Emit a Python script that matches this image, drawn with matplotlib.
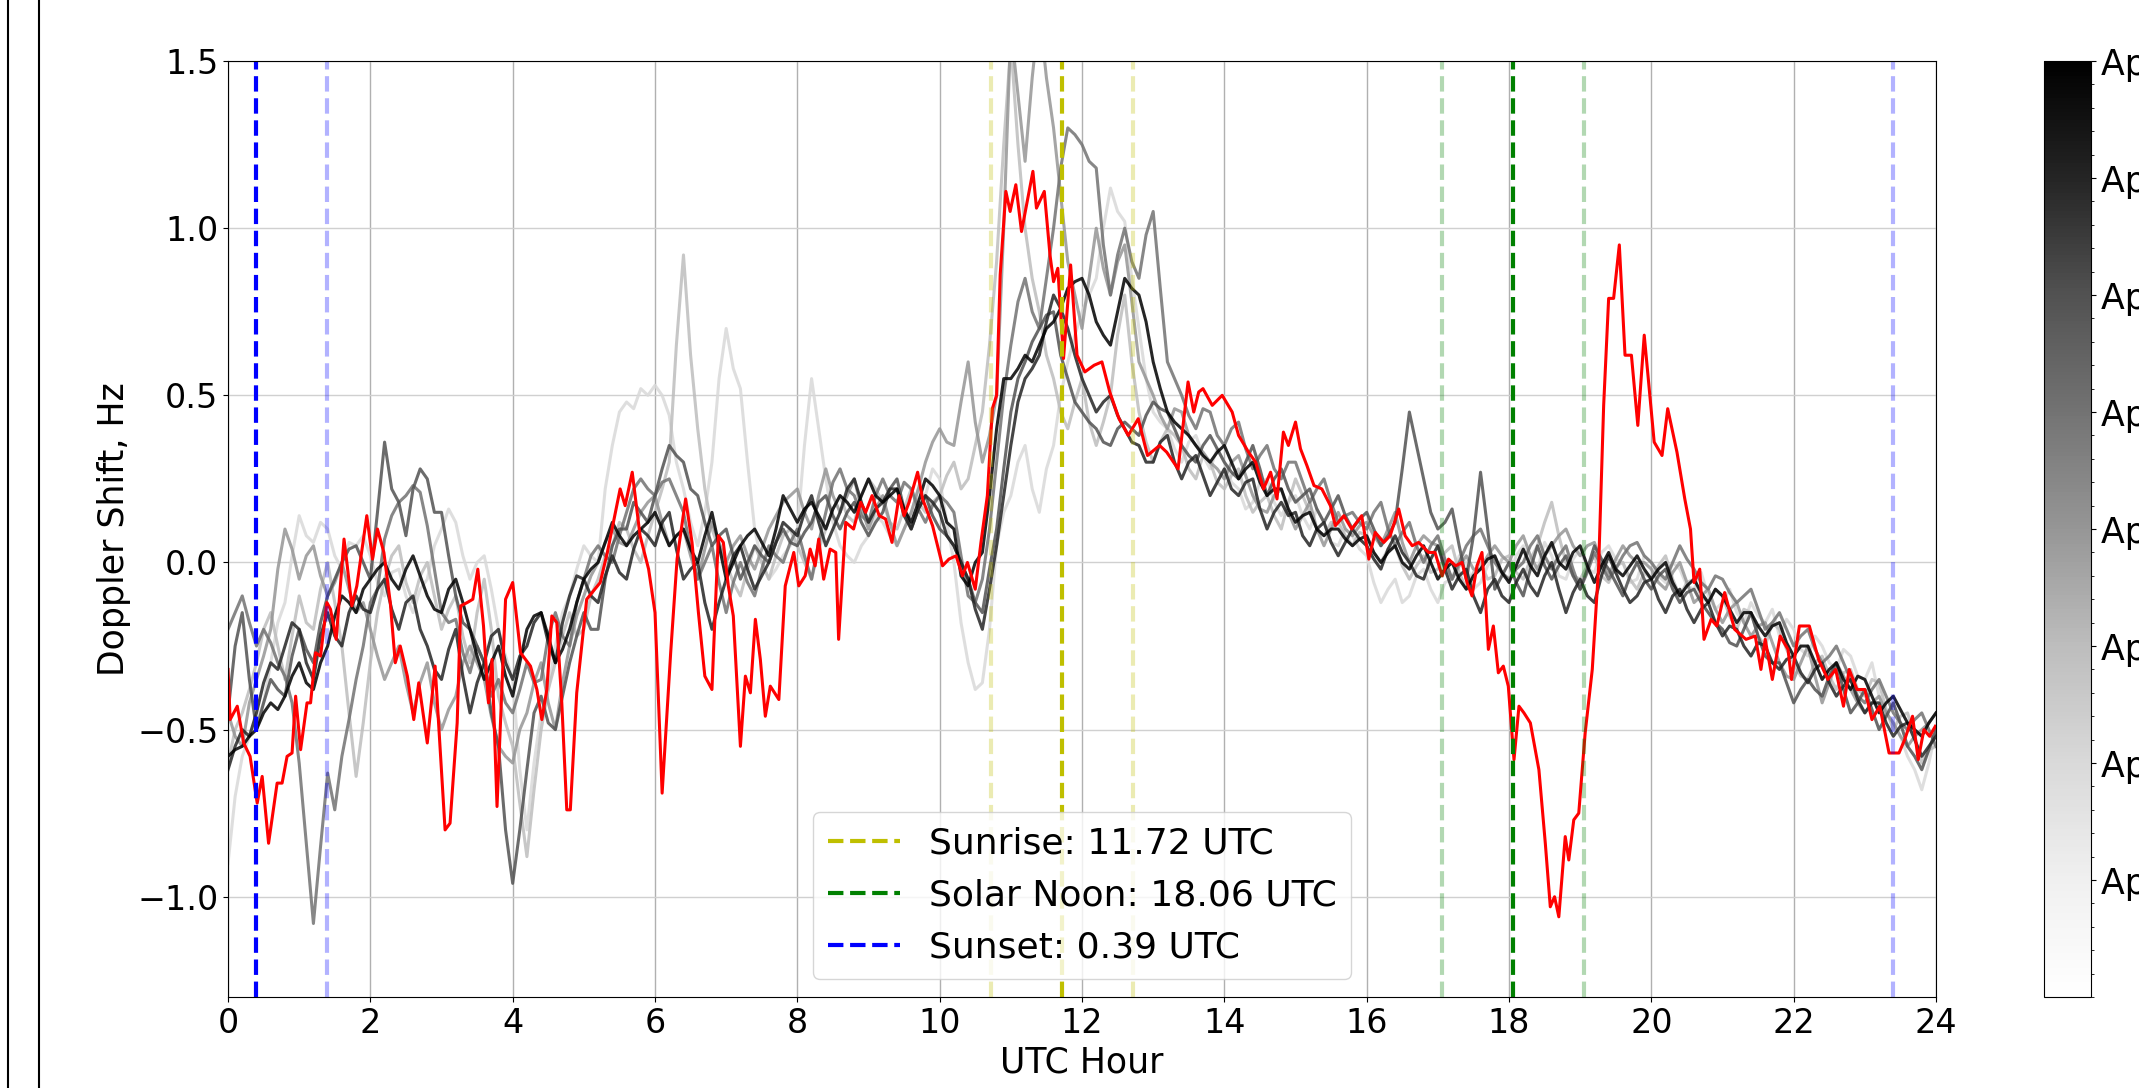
import matplotlib
matplotlib.use("Agg")
import matplotlib.pyplot as plt
import numpy as np
from matplotlib.lines import Line2D

# eclipse day (red), UTC hour / Doppler shift in Hz
red_hours = [0.00, 0.03, 0.13, 0.22, 0.31, 0.41, 0.48, 0.57, 0.69, 0.76, 0.83, 0.90, 0.95, 1.02, 1.11, 1.16,
             1.23, 1.30, 1.39, 1.44, 1.52, 1.63, 1.67, 1.74, 1.81, 1.95, 2.03, 2.10, 2.19, 2.28, 2.35, 2.42,
             2.52, 2.61, 2.68, 2.80, 2.91, 3.05, 3.12, 3.22, 3.27, 3.36, 3.44, 3.51, 3.59, 3.66, 3.71, 3.78,
             3.84, 3.90, 4.00, 4.11, 4.25, 4.34, 4.41, 4.48, 4.55, 4.62, 4.69, 4.76, 4.81, 4.90, 5.04, 5.23,
             5.33, 5.51, 5.58, 5.68, 5.79, 5.91, 6.00, 6.10, 6.22, 6.31, 6.43, 6.52, 6.61, 6.70, 6.80, 6.89,
             6.96, 7.03, 7.10, 7.20, 7.27, 7.34, 7.41, 7.48, 7.55, 7.62, 7.74, 7.83, 7.95, 8.02, 8.11, 8.18,
             8.25, 8.30, 8.37, 8.46, 8.54, 8.58, 8.68, 8.79, 8.89, 8.96, 9.05, 9.15, 9.24, 9.33, 9.43, 9.50,
             9.57, 9.69, 9.76, 9.90, 10.04, 10.13, 10.23, 10.32, 10.39, 10.50, 10.58, 10.67, 10.74, 10.80,
             10.85, 10.93, 10.99, 11.07, 11.15, 11.23, 11.31, 11.36, 11.47, 11.55, 11.60, 11.66, 11.74, 11.84,
             11.93, 12.04, 12.17, 12.28, 12.39, 12.52, 12.65, 12.79, 12.92, 13.09, 13.19, 13.35, 13.49, 13.57,
             13.64, 13.70, 13.83, 13.97, 14.11, 14.20, 14.34, 14.44, 14.55, 14.65, 14.74, 14.83, 14.90, 15.00,
             15.07, 15.16, 15.26, 15.37, 15.49, 15.56, 15.68, 15.79, 15.93, 16.03, 16.12, 16.24, 16.33, 16.45,
             16.54, 16.64, 16.73, 16.87, 16.96, 17.06, 17.15, 17.25, 17.34, 17.41, 17.48, 17.55, 17.62, 17.67,
             17.71, 17.78, 17.85, 17.92, 17.99, 18.07, 18.14, 18.21, 18.30, 18.42, 18.51, 18.58, 18.64, 18.70,
             18.79, 18.84, 18.91, 18.98, 19.07, 19.17, 19.26, 19.33, 19.40, 19.47, 19.55, 19.63, 19.72, 19.81,
             19.90, 20.04, 20.15, 20.23, 20.36, 20.47, 20.55, 20.60, 20.68, 20.74, 20.84, 20.92, 21.03, 21.17,
             21.33, 21.46, 21.54, 21.60, 21.70, 21.81, 21.92, 21.97, 22.08, 22.22, 22.35, 22.48, 22.59, 22.70,
             22.78, 22.89, 23.00, 23.10, 23.21, 23.34, 23.48, 23.56, 23.67, 23.75, 23.83, 23.91, 23.99]
red_shift = [-0.32, -0.47, -0.43, -0.54, -0.58, -0.72, -0.64, -0.84, -0.66, -0.66, -0.58, -0.57, -0.40, -0.56, -0.42, -0.42,
             -0.27, -0.28, -0.12, -0.14, -0.23, 0.07, 0.00, -0.13, -0.07, 0.14, 0.01, 0.10, 0.03, -0.12, -0.30, -0.25,
             -0.34, -0.47, -0.36, -0.54, -0.31, -0.80, -0.78, -0.48, -0.13, -0.12, -0.11, -0.02, -0.19, -0.42, -0.29, -0.73,
             -0.42, -0.11, -0.06, -0.27, -0.31, -0.38, -0.47, -0.38, -0.16, -0.18, -0.42, -0.74, -0.74, -0.39, -0.11, -0.06,
             0.03, 0.22, 0.17, 0.27, 0.08, -0.02, -0.15, -0.69, -0.27, 0.01, 0.19, 0.06, -0.15, -0.34, -0.38, 0.08,
             0.06, -0.07, -0.16, -0.55, -0.34, -0.39, -0.17, -0.29, -0.46, -0.37, -0.41, -0.07, 0.03, -0.07, -0.04, 0.04,
             -0.01, 0.07, -0.05, 0.04, 0.03, -0.23, 0.12, 0.10, 0.18, 0.15, 0.20, 0.14, 0.13, 0.06, 0.20, 0.14,
             0.18, 0.27, 0.19, 0.11, -0.01, 0.01, 0.02, -0.04, 0.00, -0.08, 0.06, 0.20, 0.46, 0.50,
             0.86, 1.11, 1.05, 1.13, 0.99, 1.08, 1.17, 1.06, 1.11, 0.92, 0.84, 0.88, 0.61, 0.89,
             0.62, 0.57, 0.59, 0.60, 0.51, 0.43, 0.38, 0.43, 0.32, 0.35, 0.33, 0.28, 0.54, 0.45,
             0.51, 0.52, 0.47, 0.50, 0.45, 0.38, 0.33, 0.30, 0.22, 0.27, 0.19, 0.39, 0.35, 0.42,
             0.34, 0.29, 0.23, 0.22, 0.17, 0.11, 0.14, 0.10, 0.14, 0.01, 0.09, 0.06, 0.08, 0.16,
             0.08, 0.05, 0.06, 0.03, 0.03, -0.04, 0.01, -0.01, 0.00, -0.06, -0.10, -0.01, 0.03, -0.11,
             -0.26, -0.19, -0.33, -0.31, -0.37, -0.59, -0.43, -0.45, -0.48, -0.62, -0.84, -1.03, -1.00, -1.06,
             -0.82, -0.89, -0.77, -0.75, -0.51, -0.32, -0.01, 0.47, 0.79, 0.79, 0.95, 0.62, 0.62, 0.41,
             0.68, 0.36, 0.32, 0.46, 0.33, 0.19, 0.10, -0.06, -0.02, -0.23, -0.17, -0.19, -0.09, -0.20,
             -0.23, -0.22, -0.32, -0.23, -0.35, -0.22, -0.26, -0.35, -0.19, -0.19, -0.29, -0.35, -0.32, -0.43,
             -0.32, -0.38, -0.38, -0.47, -0.43, -0.57, -0.57, -0.53, -0.46, -0.59, -0.50, -0.52, -0.49]

# other days, one value every 0.1 h from 0 to 24 UTC (one row = 2 h)
gray_hours = np.linspace(0, 24, 241)
day_a = [-0.90, -0.70, -0.58, -0.52, -0.48, -0.42, -0.30, -0.18, -0.12, 0.02, 0.14, 0.08, 0.06, 0.12, 0.10, 0.02, -0.02, 0.06, 0.05, 0.08,
         0.02, -0.06, -0.10, -0.03, -0.02, -0.10, -0.15, -0.08, -0.05, 0.05, 0.10, 0.16, 0.12, 0.02, -0.05, 0.00, 0.02, -0.08, -0.20, -0.28,
         -0.35, -0.62, -0.80, -0.60, -0.45, -0.38, -0.25, -0.15, -0.10, -0.02, 0.05, 0.02, 0.00, 0.22, 0.35, 0.45, 0.48, 0.46, 0.52, 0.50,
         0.53, 0.50, 0.44, 0.30, 0.22, 0.12, 0.05, 0.15, 0.30, 0.55, 0.70, 0.58, 0.52, 0.30, 0.10, 0.00, -0.05, -0.02, 0.02, 0.05,
         0.10, 0.35, 0.55, 0.40, 0.25, 0.12, 0.05, 0.02, 0.00, 0.05, 0.08, 0.14, 0.12, 0.08, 0.05, 0.10, 0.15, 0.22, 0.20, 0.28,
         0.25, 0.12, 0.00, -0.18, -0.30, -0.38, -0.36, -0.20, 0.05, 0.15, 0.20, 0.30, 0.35, 0.22, 0.15, 0.28, 0.35, 0.50, 0.60, 0.68,
         0.75, 0.80, 0.85, 1.00, 1.12, 1.05, 1.02, 0.85, 0.70, 0.55, 0.45, 0.42, 0.40, 0.34, 0.30, 0.36, 0.38, 0.32, 0.28, 0.34,
         0.30, 0.24, 0.22, 0.16, 0.18, 0.24, 0.25, 0.18, 0.14, 0.18, 0.20, 0.14, 0.10, 0.16, 0.12, 0.06, 0.05, 0.10, 0.08, 0.04,
         0.02, -0.06, -0.12, -0.08, -0.05, -0.12, -0.10, -0.04, -0.02, -0.08, -0.12, -0.06, -0.05, 0.02, 0.00, -0.08, -0.06, -0.01, 0.02, -0.04,
         -0.05, 0.02, 0.05, -0.01, -0.02, 0.06, 0.02, -0.04, -0.05, 0.01, 0.04, -0.02, -0.03, 0.03, 0.05, 0.01, 0.00, -0.06, -0.05, 0.02,
         0.00, -0.04, -0.06, 0.00, -0.02, -0.07, -0.08, -0.03, -0.10, -0.14, -0.12, -0.08, -0.15, -0.18, -0.12, -0.16, -0.18, -0.14, -0.22, -0.17,
         -0.20, -0.26, -0.28, -0.22, -0.25, -0.30, -0.32, -0.26, -0.28, -0.34, -0.35, -0.30, -0.40, -0.45, -0.48, -0.52, -0.58, -0.62, -0.68, -0.60,
         -0.50]
day_b = [-0.60, -0.50, -0.45, -0.38, -0.30, -0.20, -0.15, -0.25, -0.35, -0.22, -0.10, -0.18, -0.20, -0.08, 0.00, -0.12, -0.25, -0.45, -0.64, -0.48,
         -0.30, -0.15, -0.05, 0.02, 0.05, -0.06, -0.12, -0.04, 0.00, -0.10, -0.20, -0.14, -0.10, -0.22, -0.30, -0.15, -0.05, -0.20, -0.40, -0.48,
         -0.55, -0.72, -0.88, -0.68, -0.50, -0.38, -0.30, -0.22, -0.15, -0.22, -0.20, -0.10, -0.05, 0.02, 0.05, 0.12, 0.10, 0.04, 0.00, 0.08,
         0.15, 0.22, 0.30, 0.65, 0.92, 0.62, 0.40, 0.22, 0.10, 0.04, 0.00, -0.06, -0.10, -0.02, 0.05, 0.00, -0.05, 0.02, 0.08, 0.10,
         0.05, 0.00, -0.05, 0.04, 0.10, 0.16, 0.20, 0.14, 0.12, 0.20, 0.25, 0.22, 0.18, 0.12, 0.10, 0.16, 0.22, 0.18, 0.15, 0.18,
         0.20, 0.26, 0.30, 0.22, 0.25, 0.35, 0.45, 0.65, 0.90, 1.25, 1.55, 1.25, 1.00, 0.85, 0.75, 0.62, 0.55, 0.45, 0.40, 0.48,
         0.55, 0.42, 0.35, 0.42, 0.50, 0.68, 0.80, 0.60, 0.45, 0.36, 0.30, 0.36, 0.40, 0.38, 0.35, 0.28, 0.25, 0.32, 0.30, 0.24,
         0.22, 0.26, 0.28, 0.20, 0.15, 0.18, 0.20, 0.14, 0.10, 0.18, 0.25, 0.20, 0.15, 0.10, 0.08, 0.12, 0.12, 0.08, 0.05, 0.09,
         0.08, 0.03, 0.00, 0.04, 0.05, -0.01, -0.05, -0.01, 0.02, -0.03, -0.02, 0.03, 0.05, -0.03, -0.08, -0.03, 0.00, -0.05, -0.04, 0.01,
         0.02, -0.03, -0.05, 0.01, 0.05, 0.12, 0.18, 0.08, 0.00, -0.04, -0.05, -0.01, 0.02, -0.04, -0.06, -0.01, 0.00, -0.05, -0.08, -0.03,
         -0.05, -0.01, 0.02, -0.05, -0.10, -0.06, -0.05, -0.10, -0.12, -0.08, -0.10, -0.16, -0.20, -0.14, -0.15, -0.22, -0.25, -0.18, -0.20, -0.26,
         -0.30, -0.34, -0.35, -0.30, -0.28, -0.34, -0.38, -0.33, -0.32, -0.38, -0.40, -0.35, -0.36, -0.44, -0.50, -0.46, -0.45, -0.52, -0.60, -0.56,
         -0.55]
day_c = [-0.45, -0.52, -0.55, -0.42, -0.35, -0.28, -0.20, -0.02, 0.10, 0.04, -0.05, 0.02, 0.05, -0.04, -0.10, -0.06, 0.00, -0.08, -0.15, -0.12,
         -0.20, -0.28, -0.35, -0.30, -0.25, -0.36, -0.45, -0.36, -0.30, -0.42, -0.50, -0.44, -0.40, -0.30, -0.25, -0.30, -0.35, -0.46, -0.55, -0.58,
         -0.60, -0.50, -0.45, -0.36, -0.30, -0.42, -0.50, -0.36, -0.25, -0.16, -0.10, -0.04, 0.00, 0.06, 0.10, 0.06, 0.05, 0.10, 0.15, 0.18,
         0.20, 0.12, 0.05, 0.08, 0.10, 0.02, -0.05, 0.04, 0.12, 0.06, 0.00, 0.05, 0.08, 0.02, -0.02, 0.04, 0.10, 0.14, 0.18, 0.20,
         0.22, 0.15, 0.10, 0.20, 0.28, 0.20, 0.15, 0.20, 0.25, 0.16, 0.10, 0.16, 0.20, 0.12, 0.05, 0.10, 0.15, 0.22, 0.30, 0.36,
         0.40, 0.36, 0.35, 0.48, 0.60, 0.42, 0.30, 0.38, 0.50, 1.00, 1.60, 1.40, 1.20, 1.45, 1.65, 1.45, 1.30, 1.10, 0.90, 0.80,
         0.70, 0.85, 1.00, 0.88, 0.80, 0.90, 0.95, 0.78, 0.60, 0.55, 0.50, 0.44, 0.40, 0.46, 0.45, 0.38, 0.35, 0.33, 0.30, 0.28,
         0.25, 0.30, 0.32, 0.26, 0.20, 0.16, 0.15, 0.20, 0.22, 0.15, 0.10, 0.14, 0.18, 0.10, 0.05, 0.10, 0.15, 0.10, 0.08, 0.11,
         0.12, 0.08, 0.05, 0.10, 0.15, 0.06, 0.00, 0.05, 0.08, 0.06, 0.05, 0.00, -0.05, -0.01, 0.02, -0.02, -0.02, 0.02, 0.05, 0.02,
         0.00, 0.05, 0.08, 0.02, -0.02, 0.02, 0.05, 0.08, 0.10, 0.05, 0.02, 0.05, 0.06, 0.00, -0.04, 0.01, 0.05, 0.02, 0.00, 0.00,
         -0.02, -0.06, -0.08, -0.03, 0.00, -0.06, -0.12, -0.10, -0.08, -0.14, -0.18, -0.14, -0.12, -0.18, -0.22, -0.19, -0.18, -0.24, -0.30, -0.34,
         -0.35, -0.30, -0.25, -0.34, -0.42, -0.36, -0.30, -0.34, -0.38, -0.42, -0.45, -0.42, -0.40, -0.45, -0.48, -0.52, -0.55, -0.52, -0.50, -0.48,
         -0.45]
day_d = [-0.20, -0.15, -0.10, -0.18, -0.25, -0.20, -0.24, -0.30, -0.34, -0.42, -0.60, -0.84, -1.08, -0.85, -0.63, -0.74, -0.58, -0.47, -0.35, -0.25,
         -0.12, -0.08, 0.07, 0.14, 0.18, 0.20, 0.23, 0.21, 0.11, -0.02, -0.15, -0.18, -0.17, -0.27, -0.33, -0.25, -0.30, -0.40, -0.35, -0.42,
         -0.45, -0.38, -0.30, -0.36, -0.35, -0.22, -0.15, -0.22, -0.25, -0.12, -0.05, 0.02, 0.05, 0.02, 0.00, 0.08, 0.15, 0.22, 0.25, 0.22,
         0.20, 0.24, 0.25, 0.20, 0.15, 0.04, -0.05, 0.00, 0.05, -0.06, -0.15, -0.06, 0.00, -0.06, -0.10, -0.02, 0.05, 0.02, 0.00, 0.06,
         0.10, 0.02, -0.05, 0.06, 0.15, 0.24, 0.28, 0.22, 0.20, 0.14, 0.12, 0.20, 0.25, 0.20, 0.18, 0.24, 0.22, 0.16, 0.12, 0.17,
         0.20, 0.18, 0.15, 0.02, -0.10, -0.12, -0.05, 0.10, 0.30, 0.50, 0.65, 0.78, 0.85, 0.75, 0.70, 0.85, 1.00, 1.18, 1.30, 1.28,
         1.25, 1.20, 1.18, 0.95, 0.80, 0.92, 1.00, 0.90, 0.85, 0.98, 1.05, 0.82, 0.60, 0.55, 0.50, 0.44, 0.40, 0.46, 0.45, 0.38,
         0.35, 0.40, 0.42, 0.34, 0.28, 0.32, 0.35, 0.28, 0.25, 0.30, 0.30, 0.24, 0.18, 0.22, 0.25, 0.18, 0.12, 0.14, 0.15, 0.12,
         0.10, 0.15, 0.18, 0.10, 0.05, 0.09, 0.12, 0.05, 0.00, 0.05, 0.08, 0.01, -0.05, 0.00, 0.05, 0.08, 0.10, 0.05, 0.00, -0.03,
         -0.05, -0.02, 0.00, 0.05, 0.08, 0.02, -0.02, 0.02, 0.05, -0.02, -0.08, -0.03, 0.03, -0.01, -0.05, -0.02, 0.02, 0.05, 0.06, 0.02,
         0.00, -0.03, -0.05, 0.00, 0.05, 0.01, -0.02, -0.06, -0.08, -0.04, -0.05, -0.09, -0.12, -0.10, -0.08, -0.14, -0.20, -0.18, -0.15, -0.20,
         -0.25, -0.22, -0.20, -0.26, -0.30, -0.28, -0.25, -0.30, -0.35, -0.40, -0.42, -0.38, -0.35, -0.40, -0.45, -0.48, -0.50, -0.47, -0.45, -0.50,
         -0.55]
day_e = [-0.45, -0.25, -0.15, -0.35, -0.50, -0.42, -0.35, -0.38, -0.40, -0.28, -0.20, -0.26, -0.30, -0.18, -0.10, -0.05, 0.00, 0.04, 0.05, 0.00,
         -0.05, 0.15, 0.36, 0.22, 0.18, 0.08, 0.22, 0.28, 0.25, 0.15, 0.15, 0.02, -0.10, -0.18, -0.20, -0.25, -0.30, -0.45, -0.55, -0.80,
         -0.96, -0.80, -0.62, -0.45, -0.40, -0.48, -0.50, -0.40, -0.30, -0.22, -0.15, -0.20, -0.20, -0.05, 0.05, 0.10, 0.10, 0.18, 0.15, 0.12,
         0.20, 0.28, 0.35, 0.32, 0.30, 0.22, 0.20, 0.12, 0.05, 0.08, 0.10, 0.02, -0.05, 0.00, 0.05, 0.02, 0.00, 0.06, 0.10, 0.06,
         0.05, 0.09, 0.12, 0.18, 0.20, 0.14, 0.10, 0.15, 0.18, 0.12, 0.08, 0.12, 0.15, 0.22, 0.25, 0.16, 0.10, 0.16, 0.20, 0.14,
         0.10, 0.08, 0.05, 0.00, -0.05, -0.12, -0.15, -0.02, 0.10, 0.28, 0.45, 0.55, 0.60, 0.66, 0.70, 0.74, 0.75, 0.62, 0.55, 0.48,
         0.45, 0.42, 0.40, 0.36, 0.35, 0.40, 0.42, 0.40, 0.38, 0.44, 0.48, 0.46, 0.45, 0.40, 0.35, 0.32, 0.30, 0.35, 0.38, 0.34,
         0.30, 0.27, 0.25, 0.30, 0.35, 0.28, 0.20, 0.25, 0.28, 0.22, 0.18, 0.20, 0.22, 0.16, 0.12, 0.16, 0.20, 0.14, 0.10, 0.13,
         0.15, 0.10, 0.05, 0.08, 0.12, 0.28, 0.45, 0.35, 0.25, 0.15, 0.10, 0.12, 0.16, 0.05, -0.05, 0.08, 0.27, 0.10, -0.08, -0.04,
         0.00, -0.06, -0.10, -0.02, 0.05, -0.01, -0.05, -0.01, 0.02, -0.04, -0.08, -0.02, 0.05, 0.01, -0.02, -0.06, -0.10, -0.04, 0.00, -0.05,
         -0.08, -0.04, -0.02, -0.08, -0.12, -0.09, -0.08, -0.12, -0.15, -0.18, -0.20, -0.24, -0.25, -0.20, -0.15, -0.22, -0.28, -0.30, -0.30, -0.36,
         -0.42, -0.38, -0.35, -0.38, -0.40, -0.34, -0.30, -0.38, -0.45, -0.42, -0.38, -0.44, -0.50, -0.46, -0.42, -0.48, -0.55, -0.58, -0.62, -0.56,
         -0.50]
day_f = [-0.62, -0.55, -0.50, -0.52, -0.45, -0.36, -0.30, -0.32, -0.25, -0.18, -0.20, -0.30, -0.35, -0.22, -0.15, -0.22, -0.25, -0.15, -0.10, -0.14,
         -0.15, -0.08, -0.05, -0.14, -0.20, -0.12, -0.10, -0.20, -0.25, -0.32, -0.35, -0.26, -0.20, -0.34, -0.45, -0.36, -0.30, -0.22, -0.20, -0.30,
         -0.35, -0.28, -0.25, -0.18, -0.15, -0.24, -0.30, -0.18, -0.10, -0.04, -0.05, -0.10, -0.12, -0.04, 0.02, -0.03, -0.05, 0.04, 0.10, 0.08,
         0.05, 0.12, 0.15, 0.04, -0.05, -0.02, 0.00, -0.12, -0.20, -0.12, -0.05, 0.02, 0.05, -0.02, -0.08, -0.04, 0.00, 0.06, 0.12, 0.10,
         0.08, 0.15, 0.20, 0.12, 0.05, 0.10, 0.15, 0.22, 0.25, 0.18, 0.12, 0.16, 0.18, 0.22, 0.22, 0.14, 0.10, 0.16, 0.20, 0.18,
         0.15, 0.08, 0.05, 0.00, -0.05, -0.14, -0.20, -0.08, 0.05, 0.20, 0.35, 0.48, 0.55, 0.58, 0.62, 0.72, 0.80, 0.76, 0.70, 0.62,
         0.55, 0.50, 0.45, 0.48, 0.50, 0.44, 0.40, 0.36, 0.35, 0.30, 0.30, 0.36, 0.38, 0.30, 0.25, 0.30, 0.32, 0.26, 0.20, 0.24,
         0.28, 0.22, 0.20, 0.24, 0.25, 0.16, 0.10, 0.15, 0.18, 0.14, 0.15, 0.08, 0.05, 0.10, 0.12, 0.06, 0.02, 0.06, 0.10, 0.07,
         0.05, 0.01, -0.02, 0.04, 0.08, 0.03, 0.00, -0.04, -0.05, 0.01, 0.05, -0.02, -0.08, -0.04, -0.02, -0.10, -0.15, -0.08, -0.05, -0.10,
         -0.12, -0.06, -0.02, -0.07, -0.10, -0.04, 0.00, -0.08, -0.15, -0.09, -0.05, -0.10, -0.12, -0.04, 0.02, -0.03, -0.08, -0.12, -0.10, -0.06,
         -0.05, -0.11, -0.15, -0.10, -0.08, -0.14, -0.18, -0.14, -0.12, -0.18, -0.22, -0.19, -0.20, -0.25, -0.28, -0.24, -0.25, -0.30, -0.32, -0.29,
         -0.28, -0.33, -0.36, -0.32, -0.30, -0.36, -0.40, -0.37, -0.35, -0.41, -0.45, -0.42, -0.42, -0.48, -0.52, -0.49, -0.48, -0.53, -0.58, -0.55,
         -0.52]
day_g = [-0.58, -0.56, -0.55, -0.52, -0.50, -0.45, -0.42, -0.44, -0.40, -0.34, -0.30, -0.36, -0.38, -0.30, -0.25, -0.16, -0.10, -0.12, -0.15, -0.08,
         -0.05, -0.02, 0.00, -0.05, -0.08, -0.02, 0.02, -0.04, -0.10, -0.14, -0.15, -0.08, -0.05, -0.12, -0.20, -0.28, -0.35, -0.30, -0.25, -0.34,
         -0.40, -0.30, -0.20, -0.16, -0.15, -0.22, -0.30, -0.26, -0.20, -0.12, -0.05, -0.02, 0.00, 0.06, 0.12, 0.08, 0.05, 0.08, 0.10, 0.12,
         0.15, 0.10, 0.05, 0.08, 0.10, 0.04, 0.00, 0.08, 0.15, 0.05, -0.05, 0.00, 0.05, 0.08, 0.10, 0.06, 0.02, 0.10, 0.20, 0.16,
         0.12, 0.16, 0.18, 0.14, 0.10, 0.16, 0.20, 0.18, 0.15, 0.20, 0.25, 0.20, 0.18, 0.20, 0.22, 0.16, 0.12, 0.18, 0.25, 0.23,
         0.20, 0.12, 0.10, -0.04, -0.07, 0.00, 0.03, 0.20, 0.40, 0.55, 0.55, 0.58, 0.62, 0.60, 0.65, 0.70, 0.72, 0.76, 0.82, 0.84,
         0.85, 0.80, 0.72, 0.68, 0.65, 0.75, 0.85, 0.82, 0.80, 0.72, 0.60, 0.52, 0.45, 0.42, 0.40, 0.38, 0.35, 0.32, 0.30, 0.33,
         0.35, 0.30, 0.25, 0.28, 0.30, 0.24, 0.20, 0.22, 0.22, 0.16, 0.12, 0.14, 0.15, 0.10, 0.08, 0.10, 0.10, 0.07, 0.05, 0.07,
         0.08, 0.03, 0.00, 0.03, 0.05, 0.00, -0.02, 0.02, 0.05, 0.00, -0.05, -0.02, 0.00, -0.05, -0.08, -0.04, -0.02, 0.01, 0.02, -0.03,
         -0.06, -0.01, 0.04, -0.01, -0.04, 0.02, 0.06, 0.00, -0.02, 0.03, 0.05, -0.01, -0.06, -0.01, 0.03, -0.02, -0.04, -0.01, 0.02, -0.02,
         -0.05, -0.02, 0.00, -0.06, -0.10, -0.07, -0.05, -0.09, -0.12, -0.08, -0.10, -0.14, -0.18, -0.15, -0.15, -0.19, -0.22, -0.19, -0.18, -0.24,
         -0.28, -0.25, -0.25, -0.30, -0.35, -0.32, -0.30, -0.35, -0.38, -0.34, -0.35, -0.40, -0.45, -0.42, -0.40, -0.44, -0.48, -0.50, -0.52, -0.48,
         -0.45]
other_days = [day_a, day_b, day_c, day_d, day_e, day_f, day_g]
day_levels = [2, 3, 4, 5, 6, 7, 8]
cbar_labels = ["Apr 01", "Apr 02", "Apr 03", "Apr 04", "Apr 05", "Apr 06", "Apr 07", "Apr 08"]

sunrise = 11.72
solar_noon = 18.06
sunset = 0.39

fig = plt.figure(figsize=(21.39, 10.88), dpi=100)
ax = fig.add_axes([0.1066, 0.0836, 0.7985, 0.8603])

cmap = plt.get_cmap("Greys")
norm = plt.Normalize(0, 8)
for vals, lev in zip(other_days, day_levels):
    ax.plot(gray_hours, vals, color=cmap(norm(lev)), lw=2.2, alpha=0.85)
ax.plot(red_hours, red_shift, color="red", lw=2.2)

ax.axvline(sunrise, color="y", ls="--", lw=3)
ax.axvline(sunrise - 1, color="y", ls="--", lw=3, alpha=0.3)
ax.axvline(sunrise + 1, color="y", ls="--", lw=3, alpha=0.3)
ax.axvline(solar_noon, color="g", ls="--", lw=3)
ax.axvline(solar_noon - 1, color="g", ls="--", lw=3, alpha=0.3)
ax.axvline(solar_noon + 1, color="g", ls="--", lw=3, alpha=0.3)
ax.axvline(sunset, color="b", ls="--", lw=3)
ax.axvline(sunset + 1, color="b", ls="--", lw=3, alpha=0.3)
ax.axvline(sunset - 1 + 24, color="b", ls="--", lw=3, alpha=0.3)

ax.set_xlim(0, 24)
ax.set_ylim(-1.3, 1.5)
ax.set_xticks(range(0, 25, 2))
ax.xaxis.grid(True, color="#b0b0b0", lw=1)
ax.yaxis.grid(True, color="#d0d0d0", lw=1)
ax.tick_params(labelsize=24)
ax.set_xlabel("UTC Hour", fontsize=25)
ax.set_ylabel("Doppler Shift, Hz", fontsize=25)

handles = [Line2D([], [], color="y", ls="--", lw=3),
           Line2D([], [], color="g", ls="--", lw=3),
           Line2D([], [], color="b", ls="--", lw=3)]
labels = ["Sunrise: %.2f UTC" % sunrise,
          "Solar Noon: %.2f UTC" % solar_noon,
          "Sunset: %.2f UTC" % sunset]
ax.legend(handles, labels, loc="lower center", fontsize=26)

cax = fig.add_axes([0.9556, 0.0836, 0.022, 0.8603])
sm = plt.cm.ScalarMappable(cmap=cmap, norm=norm)
cbar = fig.colorbar(sm, cax=cax, ticks=range(1, 9))
cbar.ax.set_yticklabels(cbar_labels)
cbar.ax.minorticks_on()
cbar.ax.tick_params(labelsize=25)

# edges of the neighbouring panel
for xf in [8 / 2139, 39 / 2139]:
    fig.add_artist(Line2D([xf, xf], [0, 1], transform=fig.transFigure, color="black", lw=1.5))

fig.savefig("out.png", dpi=100)
